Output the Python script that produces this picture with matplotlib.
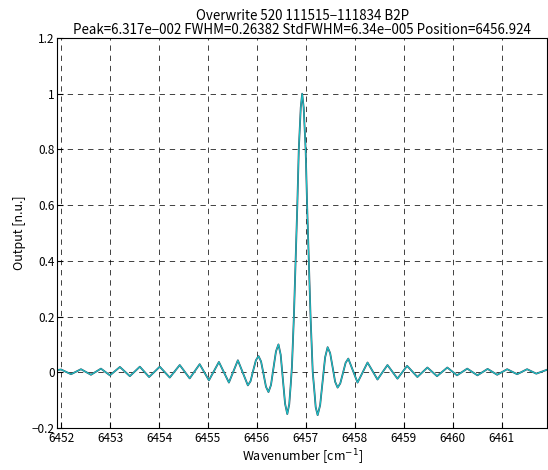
import matplotlib
matplotlib.use('Agg')
import matplotlib.pyplot as plt

# Data (wavenumber [cm^-1], normalised output)
wavenumber = [
    6451.924, 6452.000, 6452.204, 6452.407, 6452.611, 6452.815, 6452.998,
    6453.202, 6453.405, 6453.609, 6453.798, 6454.016, 6454.220, 6454.424,
    6454.627, 6454.831, 6455.020, 6455.224, 6455.428, 6455.611, 6455.815,
    6455.870, 6455.924, 6455.979, 6456.033, 6456.084, 6456.135, 6456.185,
    6456.236, 6456.287, 6456.338, 6456.389, 6456.440, 6456.485, 6456.530,
    6456.575, 6456.620, 6456.660, 6456.690, 6456.715, 6456.755, 6456.790,
    6456.825, 6456.855, 6456.895, 6456.924, 6456.955, 6456.995, 6457.025,
    6457.060, 6457.095, 6457.140, 6457.170, 6457.200, 6457.240, 6457.291,
    6457.342, 6457.393, 6457.444, 6457.495, 6457.546, 6457.597, 6457.648,
    6457.702, 6457.757, 6457.811, 6457.866, 6458.055, 6458.259, 6458.462,
    6458.666, 6458.870, 6459.067, 6459.277, 6459.481, 6459.678, 6459.888,
    6460.086, 6460.295, 6460.503, 6460.711, 6460.906, 6461.110, 6461.314,
    6461.517, 6461.705, 6461.924,
]
output = [
    0.008, 0.010, -0.007, 0.011, -0.009, 0.013, -0.011,
    0.019, -0.014, 0.020, -0.017, 0.020, -0.019, 0.026,
    -0.022, 0.029, -0.029, 0.037, -0.037, 0.043, -0.047,
    -0.032, 0.006, 0.043, 0.058, 0.039, -0.006, -0.052,
    -0.071, -0.046, 0.015, 0.075, 0.100, 0.063, -0.025,
    -0.113, -0.150, -0.115, -0.045, 0.020, 0.200, 0.400,
    0.600, 0.800, 0.950, 1.000, 0.950, 0.800, 0.600,
    0.400, 0.200, 0.000, -0.060, -0.125, -0.154, -0.118,
    -0.032, 0.054, 0.090, 0.069, 0.018, -0.034, -0.055,
    -0.040, -0.003, 0.034, 0.049, -0.037, 0.035, -0.026,
    0.026, -0.023, 0.023, -0.017, 0.017, -0.014, 0.017,
    -0.011, 0.013, -0.011, 0.012, -0.009, 0.011, -0.007,
    0.011, -0.005, 0.009,
]

x_ticks = [6452, 6453, 6454, 6455, 6456, 6457, 6458, 6459, 6460, 6461]
y_ticks = [-0.2, 0, 0.2, 0.4, 0.6, 0.8, 1, 1.2]
y_labels = ['\u22120.2', '0', '0.2', '0.4', '0.6', '0.8', '1', '1.2']

plt.rcParams['font.family'] = ['Noto Sans CJK JP', 'DejaVu Sans']
plt.rcParams['font.size'] = 8.5

fig = plt.figure(figsize=(5.48, 4.70), dpi=100)
ax = fig.add_axes([0.1046, 0.0894, 0.8936, 0.8298])

ax.plot(wavenumber, output, color='#3d4a5a', lw=1.3)
ax.plot(wavenumber, output, color='#19c3c8', lw=0.8)

ax.set_xlim(6451.924, 6461.924)
ax.set_ylim(-0.2, 1.2)
ax.set_xticks(x_ticks)
ax.set_xticklabels([str(t) for t in x_ticks])
ax.set_yticks(y_ticks)
ax.set_yticklabels(y_labels)
ax.tick_params(direction='in', length=4, width=0.8, colors='black')
ax.tick_params(axis='x', pad=3)
ax.tick_params(axis='y', pad=2)
ax.grid(True, color='black', linestyle=(0, (5.5, 5)), linewidth=0.7, alpha=0.75)
for s in ax.spines.values():
    s.set_linewidth(0.8)

ax.set_xlabel('Wavenumber [cm$^{-1}$]', fontsize=9, labelpad=2)
ax.set_ylabel('Output [n.u.]', fontsize=9, labelpad=4)
ax.set_title('Overwrite 520 111515\u2212111834 B2P\n'
             'Peak=6.317e\u2212002 FWHM=0.26382 StdFWHM=6.34e\u2212005 Position=6456.924',
             fontsize=9.6, pad=3, linespacing=1.0)

fig.savefig('out.png', dpi=100)
